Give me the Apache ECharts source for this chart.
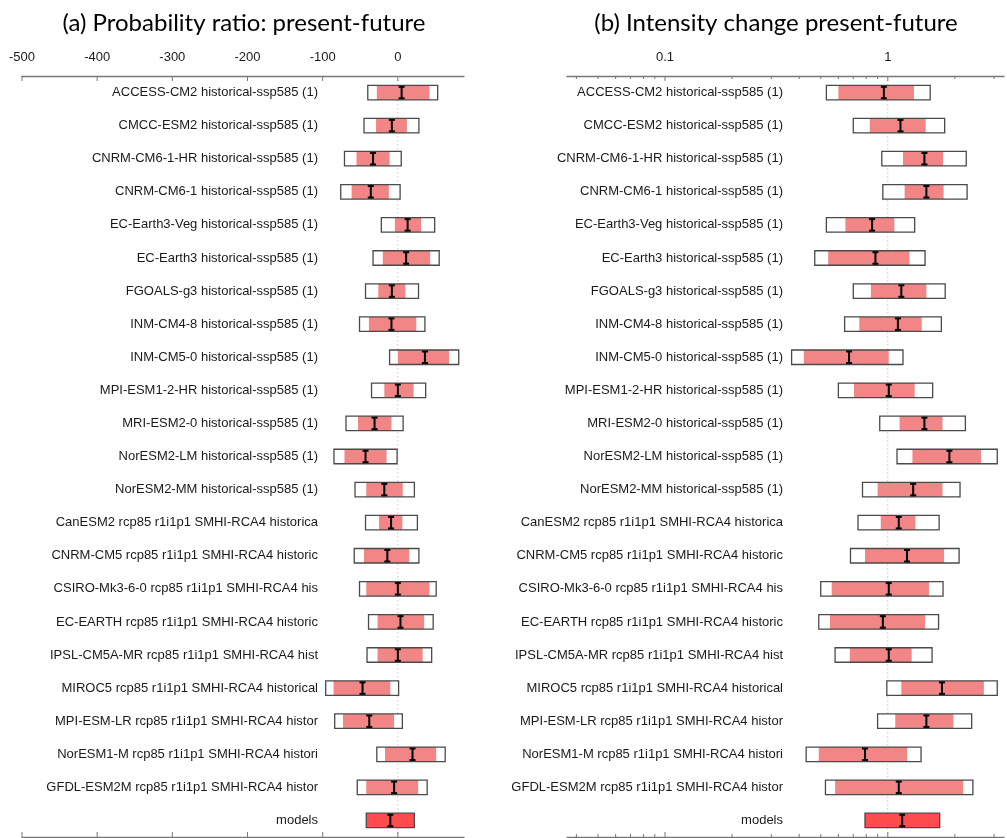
<!DOCTYPE html>
<html>
<head>
<meta charset="utf-8">
<script src="https://cdn.jsdelivr.net/npm/echarts@6/dist/echarts.min.js"></script>
<style>
  html, body { margin: 0; padding: 0; background: #fff; }
  #chart { width: 1007px; height: 838px; }
</style>
</head>
<body>
<div id="chart"></div>
<script>
// Model runs, top to bottom; the last row is the multi-model synthesis.
const runs = [
  'ACCESS-CM2 historical-ssp585 (1)',
  'CMCC-ESM2 historical-ssp585 (1)',
  'CNRM-CM6-1-HR historical-ssp585 (1)',
  'CNRM-CM6-1 historical-ssp585 (1)',
  'EC-Earth3-Veg historical-ssp585 (1)',
  'EC-Earth3 historical-ssp585 (1)',
  'FGOALS-g3 historical-ssp585 (1)',
  'INM-CM4-8 historical-ssp585 (1)',
  'INM-CM5-0 historical-ssp585 (1)',
  'MPI-ESM1-2-HR historical-ssp585 (1)',
  'MRI-ESM2-0 historical-ssp585 (1)',
  'NorESM2-LM historical-ssp585 (1)',
  'NorESM2-MM historical-ssp585 (1)',
  'CanESM2 rcp85 r1i1p1 SMHI-RCA4 historica',
  'CNRM-CM5 rcp85 r1i1p1 SMHI-RCA4 historic',
  'CSIRO-Mk3-6-0 rcp85 r1i1p1 SMHI-RCA4 his',
  'EC-EARTH rcp85 r1i1p1 SMHI-RCA4 historic',
  'IPSL-CM5A-MR rcp85 r1i1p1 SMHI-RCA4 hist',
  'MIROC5 rcp85 r1i1p1 SMHI-RCA4 historical',
  'MPI-ESM-LR rcp85 r1i1p1 SMHI-RCA4 histor',
  'NorESM1-M rcp85 r1i1p1 SMHI-RCA4 histori',
  'GFDL-ESM2M rcp85 r1i1p1 SMHI-RCA4 histor',
  'models'
];

// (a) Probability ratio present-future: outer range, inner range, central estimate
const probOuterLow  = [-40, -45, -71, -76, -22, -33, -43, -51, -11, -35, -69, -85, -57, -43, -58, -51, -39, -41, -96, -84, -28, -54, -42];
const probOuterHigh = [ 53,  28, 4.5,   3,  49,  55, 27.5, 36,  81,  37,   7,  -1,  22,  26,  28,  51,  47,  45,   1,   6,  63,  39,  22];
const probInnerLow  = [-28, -29, -55, -61.5, -4, -20, -26, -38.5, 0, -18, -53, -71, -42, -25, -45, -42, -27, -27, -85.5, -73, -17, -42, -42];
const probInnerHigh = [ 42,  12, -11, -12,  31,  43,  10, 24.5,  68,  21, -8.5, -15, 6.5,   6,  15,  42,  35,  33, -10,  -5,  51,  27,  22];
const probCentral   = [  5,  -8, -33, -36,  13,  11,  -8, -8.5,  36,   0, -31, -43, -18,  -9, -14,   0, 3.5,   0, -47, -38, 19.5, -5, -10];

// (b) Intensity change present-future (ratio, log scale)
const intOuterLow  = [0.53, 0.70, 0.94, 0.95, 0.53, 0.47, 0.70, 0.64, 0.37, 0.60, 0.92, 1.10, 0.77, 0.735, 0.68, 0.50, 0.49, 0.58, 0.99, 0.90, 0.43, 0.525, 0.79];
const intOuterHigh = [1.55, 1.80, 2.25, 2.27, 1.32, 1.47, 1.81, 1.74, 1.17, 1.59, 2.23, 3.10, 2.11, 1.70, 2.09, 1.77, 1.69, 1.58, 3.10, 2.38, 1.41, 2.41, 1.71];
const intInnerLow  = [0.60, 0.83, 1.17, 1.19, 0.645, 0.54, 0.84, 0.745, 0.42, 0.705, 1.13, 1.29, 0.90, 0.93, 0.79, 0.56, 0.55, 0.675, 1.15, 1.08, 0.49, 0.58, 0.79];
const intInnerHigh = [1.31, 1.48, 1.77, 1.78, 1.07, 1.25, 1.49, 1.42, 1.01, 1.32, 1.76, 2.62, 1.76, 1.33, 1.79, 1.53, 1.47, 1.28, 2.70, 1.97, 1.22, 2.18, 1.71];
const intCentral   = [0.96, 1.14, 1.46, 1.49, 0.85, 0.88, 1.15, 1.11, 0.67, 1.01, 1.46, 1.89, 1.30, 1.12, 1.22, 1.01, 0.95, 1.01, 1.75, 1.49, 0.79, 1.12, 1.16];

// Axis ticks and reference lines
const probTicks = [-500, -400, -300, -200, -100, 0];
const intTicks = [0.04, 0.05, 0.06, 0.07, 0.08, 0.09, 0.1, 0.2, 0.3, 0.4, 0.5, 0.6, 0.7, 0.8, 0.9, 1, 2, 3];
const probRef = 0;
const intRef = 1;

const titles = ['(a) Probability ratio: present-future', '(b) Intensity change present-future'];

function rows(lo, hi, inLo, inHi, mid) {
  return runs.map((_, i) => [i, lo[i], hi[i], inLo[i], inHi[i], mid[i]]);
}

const lastRow = runs.length - 1;
const BOX_H = 14.5;

function renderBox(params, api) {
  const row = api.value(0);
  const px = v => api.coord([v, row])[0];
  const yc = api.coord([api.value(1), row])[1];
  const top = yc - BOX_H / 2;
  const x0 = px(api.value(1)), x1 = px(api.value(2));
  const i0 = px(api.value(3)), i1 = px(api.value(4));
  const xm = px(api.value(5));
  const pooled = row === lastRow;
  const children = [
    { type: 'rect', shape: { x: x0, y: top, width: x1 - x0, height: BOX_H },
      style: { fill: pooled ? '#ff4d4d' : '#ffffff' } }
  ];
  if (!pooled) {
    children.push({ type: 'rect', shape: { x: i0, y: top, width: i1 - i0, height: BOX_H },
      style: { fill: '#f28585' } });
  }
  children.push({ type: 'rect', shape: { x: x0, y: top, width: x1 - x0, height: BOX_H },
    style: { fill: 'none', stroke: '#4a4a4a', lineWidth: 1.3 } });
  const cap = 3;
  const ib = { stroke: '#000', lineWidth: 2 };
  children.push({ type: 'line', shape: { x1: xm, y1: top + 1, x2: xm, y2: top + BOX_H - 1 }, style: ib });
  children.push({ type: 'line', shape: { x1: xm - cap, y1: top + 1.5, x2: xm + cap, y2: top + 1.5 }, style: ib });
  children.push({ type: 'line', shape: { x1: xm - cap, y1: top + BOX_H - 1.5, x2: xm + cap, y2: top + BOX_H - 1.5 }, style: ib });
  return { type: 'group', children };
}

function renderTick(logAxis) {
  return function (params, api) {
    const v = api.value(0);
    const x = api.coord([v, 0])[0];
    const cs = params.coordSys;
    let len = 5;
    if (logAxis) {
      const e = Math.log10(v);
      len = Math.abs(e - Math.round(e)) < 1e-9 ? 5 : 3;
    }
    const st = { stroke: '#777', lineWidth: 1 };
    return { type: 'group', children: [
      { type: 'line', shape: { x1: x, y1: cs.y, x2: x, y2: cs.y + len }, style: st },
      { type: 'line', shape: { x1: x, y1: cs.y + cs.height, x2: x, y2: cs.y + cs.height - len }, style: st }
    ] };
  };
}

function renderRef(params, api) {
  const x = api.coord([api.value(0), 0])[0];
  const cs = params.coordSys;
  return { type: 'line', shape: { x1: x, y1: cs.y, x2: x, y2: cs.y + cs.height },
    style: { stroke: '#c8c8c8', lineWidth: 1, lineDash: [1.5, 2.5] } };
}

const axisLine = { show: true, lineStyle: { color: '#777', width: 1.3 } };
const labelFont = { fontFamily: 'Liberation Sans, Arial, sans-serif', fontSize: 13, color: '#1a1a1a' };
const titleFont = '24px Lato, "Open Sans", sans-serif';

const probMin = -500, probMax = 88;
const intMin = 0.0363, intMax = 3.324;

const option = {
  animation: false,
  backgroundColor: '#ffffff',
  graphic: [
    { type: 'text', x: 244, y: 23, style: { text: titles[0], font: titleFont,
      fill: '#000', textAlign: 'center', align: 'center', textVerticalAlign: 'middle', verticalAlign: 'middle' } },
    { type: 'text', x: 776, y: 23, style: { text: titles[1], font: titleFont,
      fill: '#000', textAlign: 'center', align: 'center', textVerticalAlign: 'middle', verticalAlign: 'middle' } }
  ],
  grid: [
    { left: 22, top: 76, width: 442, height: 761 },
    { left: 567, top: 76, width: 440, height: 761 }
  ],
  xAxis: [
    { gridIndex: 0, type: 'value', position: 'top', min: probMin, max: probMax, interval: 100,
      axisLine, axisTick: { show: false }, splitLine: { show: false },
      axisLabel: Object.assign({ margin: 12, formatter: v => (v % 100 === 0 ? String(v) : '') }, labelFont) },
    { gridIndex: 0, type: 'value', position: 'bottom', min: probMin, max: probMax, interval: 100,
      axisLine, axisTick: { show: false }, splitLine: { show: false }, axisLabel: { show: false } },
    { gridIndex: 1, type: 'log', logBase: 10, position: 'top', min: intMin, max: intMax,
      axisLine, axisTick: { show: false }, splitLine: { show: false }, minorTick: { show: false },
      axisLabel: Object.assign({ margin: 12, formatter: v => {
        const e = Math.log10(v);
        return Math.abs(e - Math.round(e)) < 1e-6 ? String(Math.pow(10, Math.round(e))) : '';
      } }, labelFont) },
    { gridIndex: 1, type: 'log', logBase: 10, position: 'bottom', min: intMin, max: intMax,
      axisLine, axisTick: { show: false }, splitLine: { show: false }, axisLabel: { show: false } }
  ],
  yAxis: [
    { gridIndex: 0, type: 'category', data: runs, inverse: true, offset: -296,
      axisLine: { show: false }, axisTick: { show: false }, splitLine: { show: false },
      axisLabel: Object.assign({ margin: 0, interval: 0 }, labelFont) },
    { gridIndex: 1, type: 'category', data: runs, inverse: true, offset: -216,
      axisLine: { show: false }, axisTick: { show: false }, splitLine: { show: false },
      axisLabel: Object.assign({ margin: 0, interval: 0 }, labelFont) }
  ],
  series: [
    { type: 'custom', name: 'refA', xAxisIndex: 0, yAxisIndex: 0, z: 1, silent: true,
      data: [[probRef, 0]], encode: { x: 0, y: 1 }, renderItem: renderRef },
    { type: 'custom', name: 'refB', xAxisIndex: 2, yAxisIndex: 1, z: 1, silent: true,
      data: [[intRef, 0]], encode: { x: 0, y: 1 }, renderItem: renderRef },
    { type: 'custom', name: 'ticksA', xAxisIndex: 0, yAxisIndex: 0, z: 3, silent: true, clip: false,
      data: probTicks.map(v => [v, 0]), encode: { x: 0, y: 1 }, renderItem: renderTick(false) },
    { type: 'custom', name: 'ticksB', xAxisIndex: 2, yAxisIndex: 1, z: 3, silent: true, clip: false,
      data: intTicks.map(v => [v, 0]), encode: { x: 0, y: 1 }, renderItem: renderTick(true) },
    { type: 'custom', name: 'Probability ratio', xAxisIndex: 0, yAxisIndex: 0, z: 2,
      data: rows(probOuterLow, probOuterHigh, probInnerLow, probInnerHigh, probCentral),
      encode: { y: 0, x: [1, 2, 3, 4, 5] }, renderItem: renderBox },
    { type: 'custom', name: 'Intensity change', xAxisIndex: 2, yAxisIndex: 1, z: 2,
      data: rows(intOuterLow, intOuterHigh, intInnerLow, intInnerHigh, intCentral),
      encode: { y: 0, x: [1, 2, 3, 4, 5] }, renderItem: renderBox }
  ]
};

const chart = echarts.init(document.getElementById('chart'), null, { renderer: 'canvas' });
chart.setOption(option);
</script>
</body>
</html>
